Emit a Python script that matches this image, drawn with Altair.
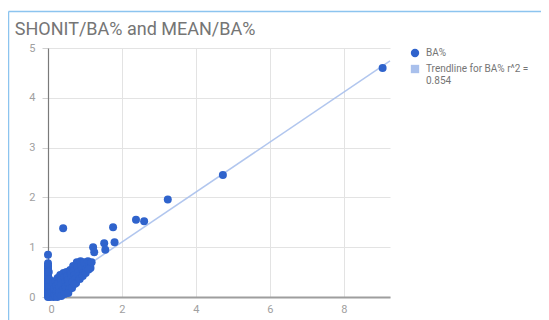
import altair as alt
import pandas as pd

# ---- data ----
SERIES = "BA%"
TREND = "Trendline for BA% r^2 = 0.854"
TREND_LINES = ["Trendline for BA% r^2 =", "0.854"]

ba_x = [9.05, 4.73, 3.24, 2.38, 2.60, 1.76, 1.80, 0.41, 1.52, 1.55, 1.22, 1.25, 0.00,
        0.00, 0.00, 0.00, 0.00, 0.00, 0.00, 0.00, 0.00, 0.00, 0.00, 0.00, 0.00, 0.00,
        0.00, 0.00, 0.00, 0.00, 0.00, 0.00, 0.00, 0.00,
        0.02, 0.02, 0.02, 0.04, 0.04, 0.04, 0.05, 0.10, 0.15,
        0.08, 0.10, 0.12, 0.14, 0.16, 0.18, 0.20, 0.22, 0.24, 0.26, 0.28, 0.30, 0.32,
        0.33, 0.35, 0.37, 0.40, 0.42, 0.44, 0.46, 0.48, 0.50, 0.52, 0.54, 0.56, 0.58,
        0.60, 0.62, 0.64, 0.66, 0.68, 0.70, 0.72, 0.74, 0.76, 0.78, 0.80, 0.82, 0.84,
        0.88, 0.90, 0.92, 0.95, 0.98, 1.00, 1.04, 1.08, 1.12, 1.15, 1.18,
        0.20, 0.25, 0.30, 0.36, 0.45, 0.55, 0.65, 0.72, 0.86, 0.94, 1.02, 1.10]
ba_y = [4.60, 2.45, 1.96, 1.55, 1.52, 1.40, 1.10, 1.38, 1.08, 0.95, 1.00, 0.90, 0.85,
        0.00, 0.03, 0.06, 0.09, 0.12, 0.15, 0.18, 0.21, 0.24, 0.27, 0.30, 0.33, 0.36,
        0.40, 0.44, 0.48, 0.52, 0.56, 0.60, 0.64, 0.68,
        0.10, 0.30, 0.50, 0.05, 0.20, 0.35, 0.00, 0.02, 0.00,
        0.12, 0.20, 0.08, 0.28, 0.16, 0.05, 0.32, 0.22, 0.12, 0.38, 0.28, 0.18, 0.06,
        0.44, 0.34, 0.24, 0.14, 0.48, 0.40, 0.30, 0.20, 0.50, 0.42, 0.34, 0.26, 0.16,
        0.54, 0.46, 0.38, 0.30, 0.62, 0.52, 0.44, 0.36, 0.28, 0.70, 0.60, 0.50, 0.42,
        0.72, 0.64, 0.56, 0.48, 0.70, 0.62, 0.56, 0.72, 0.66, 0.58, 0.70,
        0.02, 0.00, 0.08, 0.02, 0.06, 0.08, 0.18, 0.26, 0.36, 0.42, 0.48, 0.55]

trend_x = [0.0, 9.25]
trend_y = [0.10, 4.74]

x_ticks = [0, 2, 4, 6, 8]
y_ticks = [0, 1, 2, 3, 4, 5]

pts = pd.DataFrame({"x": ba_x, "y": ba_y, "series": SERIES})
trend = pd.DataFrame({"x": trend_x, "y": trend_y, "series": TREND})

BLUE = "#2f63cc"
LIGHT = "#a9c0ec"
FONT = "Roboto"

legend = alt.Legend(
    title=None, orient="none", legendX=362, legendY=0,
    labelFont=FONT, labelFontSize=10, labelColor="#757575",
    symbolSize=70, rowPadding=6, labelOffset=6, symbolStrokeWidth=0, symbolOpacity=1,
    labelExpr="datum.value == '%s' ? '%s' : ['%s', '%s']" % (SERIES, SERIES, TREND_LINES[0], TREND_LINES[1]),
)
color = alt.Color("series:N", scale=alt.Scale(domain=[SERIES, TREND], range=[BLUE, LIGHT]), legend=legend)
shape = alt.Shape("series:N", scale=alt.Scale(domain=[SERIES, TREND], range=["circle", "square"]), legend=legend)

xs = alt.X("x:Q", scale=alt.Scale(domain=[0, 9.25], nice=False, zero=False),
           axis=alt.Axis(values=x_ticks, title=None, grid=True, format="d"))
ys = alt.Y("y:Q", scale=alt.Scale(domain=[0, 5], nice=False),
           axis=alt.Axis(values=y_ticks, title=None, grid=True, format="d"))

line = alt.Chart(trend).mark_line(strokeWidth=1.5, opacity=0.9).encode(x=xs, y=ys, color=color)
points = alt.Chart(pts).mark_point(size=64, opacity=1, filled=True).encode(x=xs, y=ys, color=color, shape=shape)

# frame of the original screenshot (decoration)
frame_left = alt.Chart(pd.DataFrame({"a": [0]})).mark_rule(color="#8cc4ef", strokeWidth=1.5, clip=False).encode(
    x=alt.value(-39.5), y=alt.value(-36.5), y2=alt.value(275))
frame_top = alt.Chart(pd.DataFrame({"a": [0]})).mark_rule(color="#8cc4ef", strokeWidth=1.5, clip=False).encode(
    x=alt.value(-39.5), x2=alt.value(500), y=alt.value(-36.5))

chart = alt.layer(frame_left, frame_top, line, points).properties(
    width=342, height=249,
    autosize=alt.AutoSizeParams(type="none"),
    padding={"left": 40, "top": 40, "right": 151, "bottom": 23},
    title=alt.TitleParams("SHONIT/BA% and MEAN/BA%", anchor="start", dx=7, fontSize=18,
                          font=FONT, fontWeight="normal", color="#757575", offset=-28),
).configure_view(stroke=None).configure_axis(
    labelFont=FONT, labelFontSize=11, labelColor="#a0a0a0", gridColor="#e3e3e3",
    tickColor="#d0d0d0", tickSize=6, labelPadding=7,
).configure_axisX(domainColor="#9e9e9e", domainWidth=2, ticks=False, labelPadding=6
).configure_axisY(domainColor="#7a7a7a", domainWidth=1.2)

chart.save("out.html", embed_options={"renderer": "svg", "actions": False})
